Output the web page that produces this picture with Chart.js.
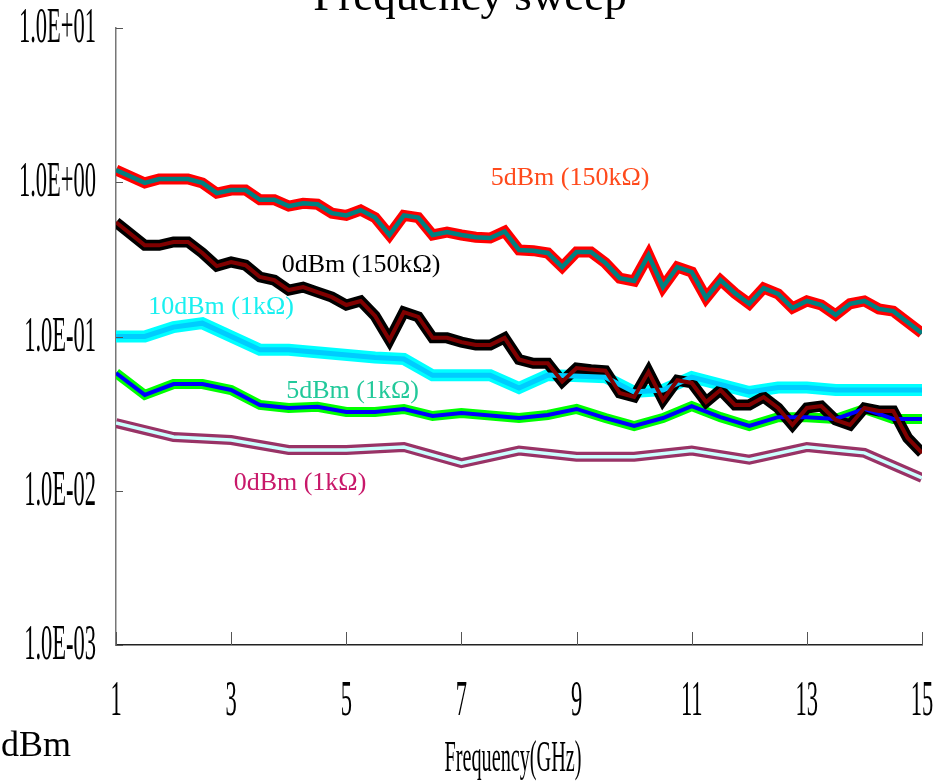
<!DOCTYPE html>
<html>
<head>
<meta charset="utf-8">
<script src="https://cdn.jsdelivr.net/npm/chart.js@4/dist/chart.umd.min.js"></script>
<style>
  html, body { margin: 0; padding: 0; background: #fff; overflow: hidden; }
  canvas { display: block; }
</style>
</head>
<body>
<canvas id="sweep" width="943" height="784"></canvas>
<script>
// ---- measured data (frequency in GHz, response on a log axis) ----
const freq5dBm150k = [1, 1.5, 1.75, 2.25, 2.5, 2.75, 3, 3.25, 3.5, 3.75, 4, 4.25, 4.5, 4.75, 5, 5.25, 5.5, 5.75, 6, 6.25, 6.5, 6.75, 7, 7.25, 7.5, 7.75, 8, 8.25, 8.5, 8.75, 9, 9.25, 9.5, 9.75, 10, 10.25, 10.5, 10.75, 11, 11.25, 11.5, 11.75, 12, 12.25, 12.5, 12.75, 13, 13.25, 13.5, 13.75, 14, 14.25, 14.5, 15];
const val5dBm150k  = [1.20, 0.99, 1.05, 1.05, 0.99, 0.85, 0.89, 0.89, 0.77, 0.77, 0.70, 0.73, 0.72, 0.63, 0.61, 0.66, 0.59, 0.455, 0.61, 0.59, 0.455, 0.475, 0.455, 0.44, 0.435, 0.48, 0.364, 0.36, 0.348, 0.282, 0.353, 0.353, 0.30, 0.239, 0.229, 0.337, 0.209, 0.282, 0.262, 0.178, 0.232, 0.191, 0.163, 0.206, 0.189, 0.153, 0.170, 0.160, 0.138, 0.163, 0.170, 0.151, 0.146, 0.105];

const freq0dBm150k = [1, 1.5, 1.75, 2, 2.25, 2.5, 2.75, 3, 3.25, 3.5, 3.75, 4, 4.25, 4.5, 4.75, 5, 5.25, 5.5, 5.75, 6, 6.25, 6.5, 6.75, 7, 7.25, 7.5, 7.75, 8, 8.25, 8.5, 8.75, 9, 9.25, 9.5, 9.75, 10, 10.25, 10.5, 10.75, 11, 11.25, 11.5, 11.75, 12, 12.25, 12.5, 12.75, 13, 13.25, 13.5, 13.75, 14, 14.25, 14.5, 14.75, 15];
const val0dBm150k  = [0.55, 0.39, 0.39, 0.41, 0.41, 0.348, 0.286, 0.304, 0.29, 0.243, 0.232, 0.20, 0.209, 0.194, 0.18, 0.16, 0.17, 0.136, 0.095, 0.144, 0.134, 0.098, 0.098, 0.092, 0.088, 0.088, 0.098, 0.071, 0.067, 0.067, 0.051, 0.0625, 0.061, 0.060, 0.043, 0.0406, 0.059, 0.0387, 0.052, 0.050, 0.0376, 0.045, 0.036, 0.036, 0.0405, 0.0344, 0.0267, 0.0344, 0.0354, 0.0288, 0.0267, 0.0344, 0.0329, 0.0329, 0.022, 0.0176];

const freq10dBm1k = [1, 1.5, 2, 2.5, 3.5, 4, 5.5, 6, 6.5, 7.5, 8, 8.5, 9.5, 10, 10.5, 11, 12, 12.5, 13, 13.5, 15];
const val10dBm1k  = [0.100, 0.100, 0.115, 0.122, 0.082, 0.082, 0.073, 0.0715, 0.056, 0.056, 0.0464, 0.0562, 0.0545, 0.0437, 0.045, 0.0545, 0.0437, 0.0467, 0.0467, 0.045, 0.045];

const freq5dBm1k = [1, 1.5, 2, 2.5, 3, 3.5, 4, 4.5, 5, 5.5, 6, 6.5, 7, 8, 8.5, 9, 9.5, 10, 10.5, 11, 11.5, 12, 12.5, 13, 13.5, 14, 14.5, 15];
const val5dBm1k  = [0.058, 0.0418, 0.0492, 0.0492, 0.045, 0.036, 0.0344, 0.035, 0.0324, 0.0324, 0.0339, 0.0305, 0.0319, 0.0296, 0.031, 0.0339, 0.0296, 0.0263, 0.0296, 0.0354, 0.030, 0.0263, 0.030, 0.030, 0.0292, 0.0339, 0.0292, 0.0292];

const freq0dBm1k = [1, 2, 3, 4, 5, 6, 7, 8, 9, 10, 11, 12, 13, 14, 15];
const val0dBm1k  = [0.0275, 0.0223, 0.0213, 0.0184, 0.0184, 0.0192, 0.0151, 0.0182, 0.0166, 0.0166, 0.0182, 0.0159, 0.0192, 0.0176, 0.0121];

const seriesNames = ['5dBm (150kΩ)', '0dBm (150kΩ)', '10dBm (1kΩ)', '5dBm (1kΩ)', '0dBm (1kΩ)'];

const yTickValues = [1e-3, 1e-2, 1e-1, 1, 10];
const yTickLabels = ['1.0E-03', '1.0E-02', '1.0E-01', '1.0E+00', '1.0E+01'];
const xTickValues = [1, 3, 5, 7, 9, 11, 13, 15];
const xTickLabels = ['1', '3', '5', '7', '9', '11', '13', '15'];

const chartTitle = 'Frequency sweep';
const xAxisTitle = 'Frequency(GHz)';
const strayText = 'dBm';

// ---- styling ----
const SERIF = '"Liberation Serif", "Times New Roman", serif';
const styles = [
  { outer: '#ff0000', inner: '#008080', ow: 11, iw: 4.5, text: '#ff4a1c', at: { x: 8.886, y: 0.96 } },
  { outer: '#000000', inner: '#800000', ow: 11, iw: 4,   text: '#000000', at: { x: 5.256, y: 0.262 } },
  { outer: '#00ffff', inner: '#00ccff', ow: 12, iw: 5,   text: '#19f0f0', at: { x: 2.824, y: 0.140 } },
  { outer: '#00ff00', inner: '#0000ff', ow: 10, iw: 4,   text: '#22c99a', at: { x: 5.108, y: 0.0399 } },
  { outer: '#993366', inner: '#ccffff', ow: 10, iw: 3.5, text: '#c8186a', at: { x: 4.196, y: 0.0101 } }
];
const freqs = [freq5dBm150k, freq0dBm150k, freq10dBm1k, freq5dBm1k, freq0dBm1k];
const vals  = [val5dBm150k, val0dBm150k, val10dBm1k, val5dBm1k, val0dBm1k];

const toPoints = (xs, ys) => xs.map((x, i) => ({ x: x, y: ys[i] }));

// every series is a wide coloured stroke with a thinner stroke of a second colour on top
const datasets = [];
seriesNames.forEach((name, i) => {
  const s = styles[i];
  const pts = toPoints(freqs[i], vals[i]);
  datasets.push({
    label: name + ' outer', data: pts, borderColor: s.outer, borderWidth: s.ow,
    pointRadius: 0, tension: 0, fill: false, borderJoinStyle: 'miter', order: 10 + i
  });
  datasets.push({
    label: name, data: pts, borderColor: s.inner, borderWidth: s.iw,
    pointRadius: 0, tension: 0, fill: false, borderJoinStyle: 'miter', order: i
  });
});

function squeezedText(ctx, text, x, y, sx, align, baseline) {
  ctx.save();
  ctx.translate(x, y);
  ctx.scale(sx, 1);
  ctx.textAlign = align;
  ctx.textBaseline = baseline;
  ctx.fillText(text, 0, 0);
  ctx.restore();
}

const decorations = {
  id: 'decorations',
  afterDraw(chart) {
    const ctx = chart.ctx;
    const xs = chart.scales.x, ys = chart.scales.y;
    const area = chart.chartArea;

    // inward tick marks
    ctx.save();
    ctx.strokeStyle = '#555';
    ctx.lineWidth = 1;
    yTickValues.forEach(v => {
      const py = Math.round(ys.getPixelForValue(v)) + 0.5;
      ctx.beginPath(); ctx.moveTo(area.left, py); ctx.lineTo(area.left + 7, py); ctx.stroke();
    });
    xTickValues.forEach(v => {
      const px = Math.round(xs.getPixelForValue(v)) + 0.5;
      ctx.beginPath(); ctx.moveTo(px, area.bottom); ctx.lineTo(px, area.bottom - 13); ctx.stroke();
    });
    ctx.restore();

    // tick labels (narrow serif)
    ctx.save();
    ctx.fillStyle = '#000';
    ctx.font = '50px ' + SERIF;
    yTickValues.forEach((v, i) => {
      squeezedText(ctx, yTickLabels[i], area.left - 20, ys.getPixelForValue(v) + 1, 0.45, 'right', 'middle');
    });
    xTickValues.forEach((v, i) => {
      squeezedText(ctx, xTickLabels[i], xs.getPixelForValue(v), area.bottom + 57, 0.45, 'center', 'middle');
    });
    ctx.font = '45px ' + SERIF;
    squeezedText(ctx, xAxisTitle, (area.left + area.right) / 2 - 6, 771, 0.45, 'center', 'alphabetic');
    ctx.restore();

    // title and stray text
    ctx.save();
    ctx.fillStyle = '#000';
    ctx.font = '45px ' + SERIF;
    ctx.textAlign = 'center';
    ctx.textBaseline = 'alphabetic';
    ctx.fillText(chartTitle, 470, 10);
    ctx.font = '36px ' + SERIF;
    ctx.textAlign = 'left';
    ctx.fillText(strayText, 1, 756);
    ctx.restore();

    // series labels placed in data coordinates
    ctx.save();
    ctx.font = '26px ' + SERIF;
    ctx.textAlign = 'center';
    ctx.textBaseline = 'alphabetic';
    seriesNames.forEach((name, i) => {
      const s = styles[i];
      ctx.fillStyle = s.text;
      ctx.fillText(name, xs.getPixelForValue(s.at.x), ys.getPixelForValue(s.at.y));
    });
    ctx.restore();
  }
};

new Chart(document.getElementById('sweep'), {
  type: 'line',
  data: { datasets: datasets },
  options: {
    responsive: false,
    animation: false,
    layout: { padding: { top: 28, right: 21, left: 0, bottom: 0 } },
    plugins: { legend: { display: false }, tooltip: { enabled: false }, title: { display: false } },
    scales: {
      x: {
        type: 'linear', min: 1, max: 15,
        grid: { display: false },
        border: { display: true, color: '#222', width: 1.5 },
        ticks: { display: false },
        afterFit(scale) { scale.height = 139; }
      },
      y: {
        type: 'logarithmic', min: 1e-3, max: 10,
        grid: { display: false },
        border: { display: true, color: '#777', width: 1.5 },
        ticks: { display: false },
        afterBuildTicks(scale) { scale.ticks = yTickValues.map(v => ({ value: v })); },
        afterFit(scale) { scale.width = 116; }
      }
    }
  },
  plugins: [decorations]
});
</script>
</body>
</html>
